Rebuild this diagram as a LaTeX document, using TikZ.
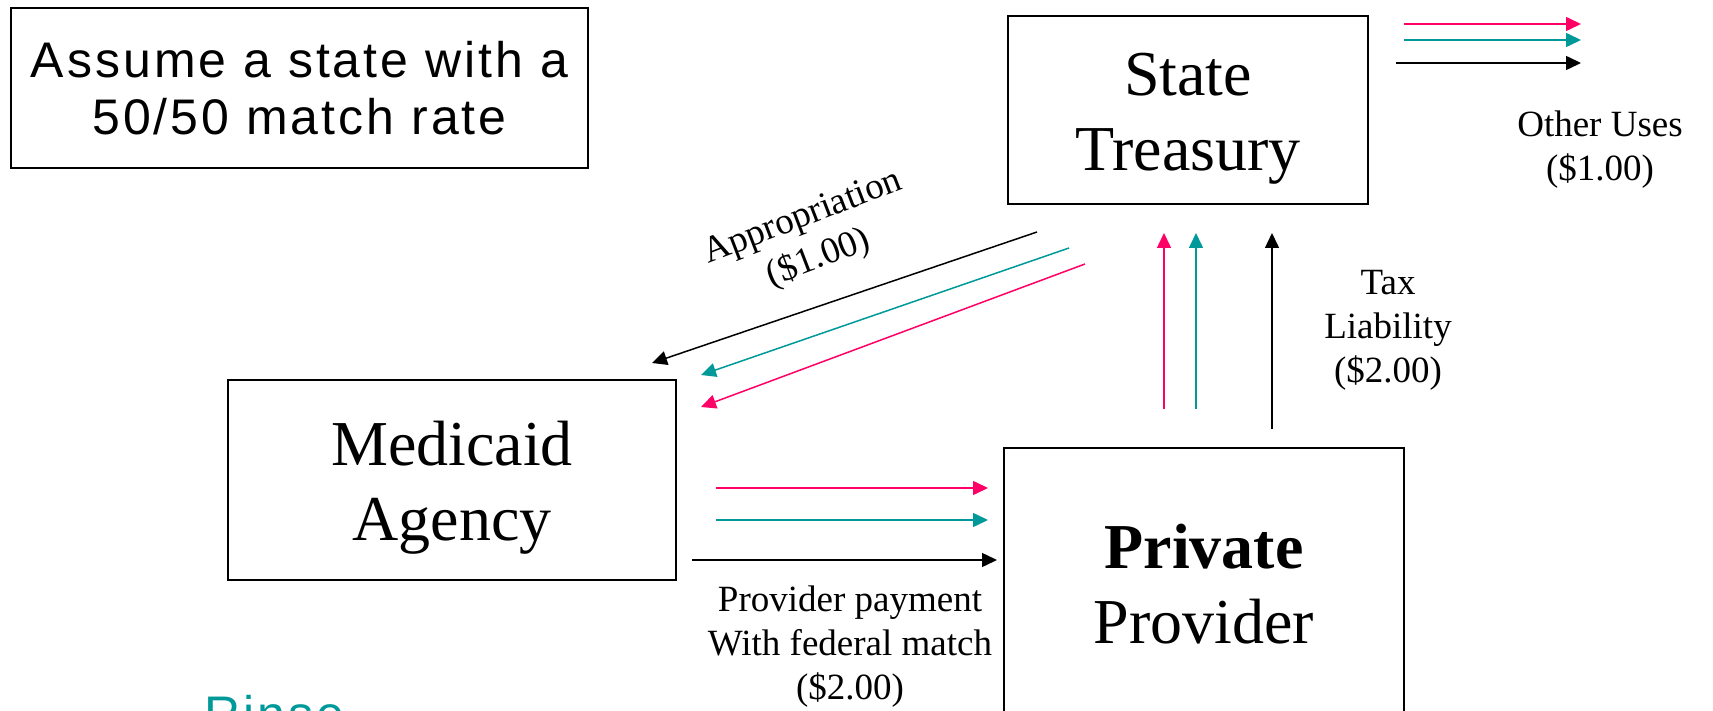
\documentclass[tikz,border=0pt]{standalone}
\usepackage{fontspec}
\setmainfont{Liberation Serif}
\newfontfamily\notefont[LetterSpace=6]{Liberation Sans}
\usetikzlibrary{arrows.meta,calc}
\definecolor{FlowPink}{RGB}{255,0,102}
\definecolor{FlowTeal}{RGB}{0,153,153}
\tikzset{
  box/.style={
    draw,
    line width=2pt,
    inner sep=0pt,
  },
  box text/.style={
    font=\fontsize{64}{75}\selectfont,
    align=center,
    inner sep=0pt,
  },
  flow label/.style={
    font=\fontsize{37}{44}\selectfont,
    align=center,
    inner sep=0pt,
  },
  note text/.style={
    font=\notefont\fontsize{50}{57}\selectfont,
  },
  flow/.style={-{Triangle[length=15pt,width=14pt]},line width=1.5pt},
}
\begin{document}
\begin{tikzpicture}[x=1pt,y=-1pt]
\useasboundingbox (0,0) rectangle (1713,711);

% Boxes
\node[box,note text,align=center,minimum width=577pt,minimum height=160pt] (assume) at (299.5,88) {Assume a state with a\\50/50 match rate};
\node[box,minimum width=360pt,minimum height=188pt] (treasury) at (1188,110) {};
\node[box,minimum width=448pt,minimum height=200pt] (medicaid) at (452,480) {};
\node[box,minimum width=400pt,minimum height=312pt] (provider) at (1204,604) {};

\node[box text] (treasurytext) at ($(treasury.center)+(0,9)$) {State\\Treasury};
\node[box text] (medicaidtext) at ($(medicaid.center)+(0,8)$) {Medicaid\\Agency};
\node[box text] (providertext) at ($(provider.center)+(0,-20)$) {\textbf{Private}\\Provider};

% Flow labels
\node[flow label] (otheruses) at (1600,150) {Other Uses\\(\$1.00)};
\node[flow label] (taxlabel) at (1388,330) {Tax\\Liability\\(\$2.00)};
\node[flow label] (paylabel) at (850,647) {Provider payment\\With federal match\\(\$2.00)};
\node[flow label,rotate=21] (applabel) at (811,239) {Appropriation\\(\$1.00)};

\node[note text,text=FlowTeal,anchor=base west,inner sep=0pt] (rinse) at (204,731) {Rinse};

% Flow end points
\coordinate (useP0) at (1404,24);  \coordinate (useP1) at (1581,24);
\coordinate (useT0) at (1404,40);  \coordinate (useT1) at (1581,40);
\coordinate (useK0) at (1396,63);  \coordinate (useK1) at (1581,63);

\coordinate (appK0) at (1037,232); \coordinate (appK1) at (652,363);
\coordinate (appT0) at (1069,248); \coordinate (appT1) at (701,375);
\coordinate (appP0) at (1085,264); \coordinate (appP1) at (701,407);

\coordinate (taxP0) at (1164,409); \coordinate (taxP1) at (1164,233);
\coordinate (taxT0) at (1196,409); \coordinate (taxT1) at (1196,233);
\coordinate (taxK0) at (1272,429); \coordinate (taxK1) at (1272,233);

\coordinate (payP0) at (716,488);  \coordinate (payP1) at (988,488);
\coordinate (payT0) at (716,520);  \coordinate (payT1) at (988,520);
\coordinate (payK0) at (692,560);  \coordinate (payK1) at (997,560);

\foreach \f/\c in {useP/FlowPink,useT/FlowTeal,useK/black,appK/black,appT/FlowTeal,appP/FlowPink,taxP/FlowPink,taxT/FlowTeal,taxK/black,payP/FlowPink,payT/FlowTeal,payK/black}
  \draw[flow,\c] (\f0) -- (\f1);

\end{tikzpicture}
\end{document}
